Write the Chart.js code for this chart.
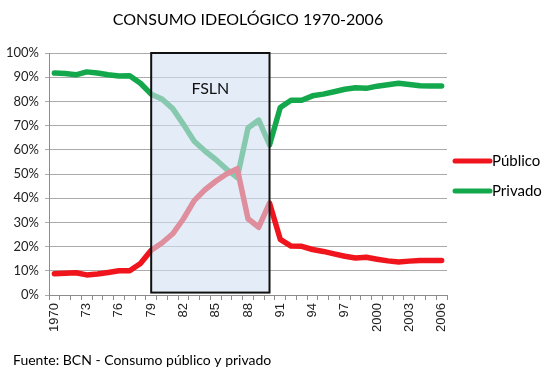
<!DOCTYPE html>
<html>
<head>
<meta charset="utf-8">
<script src="https://cdn.jsdelivr.net/npm/chart.js@4/dist/chart.umd.min.js"></script>
<style>
  html, body { margin: 0; padding: 0; background: #fff; }
  canvas { display: block; }
</style>
</head>
<body>
<canvas id="consumoChart" width="557" height="375"></canvas>
<script>
// Years and the labels shown under the axis (one every 3 years)
const years = [
  "1970", "1971", "1972", "1973", "1974", "1975", "1976", "1977", "1978", "1979",
  "1980", "1981", "1982", "1983", "1984", "1985", "1986", "1987", "1988", "1989",
  "1990", "1991", "1992", "1993", "1994", "1995", "1996", "1997", "1998", "1999",
  "2000", "2001", "2002", "2003", "2004", "2005", "2006",
];
const tickLabels = [
  "1970", "", "", "73", "", "", "76", "", "", "79",
  "", "", "82", "", "", "85", "", "", "88", "",
  "", "91", "", "", "94", "", "", "97", "", "",
  "2000", "", "", "2003", "", "", "2006",
];

// Share of consumption, percent
const publico = [
  8.8, 9.0, 9.2, 8.3, 8.7, 9.3, 10.0, 10.0, 13.0, 18.5,
  21.5, 25.3, 31.5, 39.0, 43.5, 47.0, 50.0, 52.2, 31.5, 28.0,
  38.0, 23.0, 20.2, 20.1, 18.8, 18.0, 17.0, 16.0, 15.3, 15.6,
  14.8, 14.1, 13.6, 14.0, 14.3, 14.3, 14.3,
];
const privado = [
  91.7, 91.5, 91.0, 92.2, 91.7, 91.0, 90.5, 90.6, 87.5, 83.0,
  81.0, 77.0, 70.5, 63.5, 59.5, 56.0, 52.0, 48.5, 69.0, 72.3,
  62.0, 77.5, 80.5, 80.5, 82.3, 83.0, 84.0, 85.0, 85.6, 85.4,
  86.3, 86.9, 87.5, 87.0, 86.5, 86.4, 86.4,
];

// FSLN period shaded on the chart
const fslnStart = "1979";
const fslnEnd = "1990";

const FONT = "Lato, 'Open Sans', sans-serif";
const RED = "#f0141c";
const GREEN = "#14a84c";

const overlayPlugin = {
  id: "overlay",
  afterDatasetsDraw(chart) {
    const { ctx, scales } = chart;
    const x0 = scales.x.getPixelForValue(years.indexOf(fslnStart));
    const x1 = scales.x.getPixelForValue(years.indexOf(fslnEnd));
    const y0 = scales.y.getPixelForValue(100);
    const y1 = scales.y.getPixelForValue(1);
    ctx.save();
    ctx.fillStyle = "rgba(210, 224, 242, 0.6)";
    ctx.fillRect(x0, y0, x1 - x0, y1 - y0);
    ctx.strokeStyle = "#111";
    ctx.lineWidth = 2;
    ctx.strokeRect(x0, y0, x1 - x0, y1 - y0);
    ctx.fillStyle = "#111";
    ctx.font = "16px " + FONT;
    ctx.textAlign = "center";
    ctx.textBaseline = "alphabetic";
    ctx.fillText("FSLN", (x0 + x1) / 2, scales.y.getPixelForValue(83));
    ctx.restore();
  },
  afterDraw(chart) {
    const { ctx, chartArea } = chart;
    ctx.save();
    // title
    ctx.fillStyle = "#000";
    ctx.font = "16px " + FONT;
    ctx.textAlign = "center";
    ctx.fillText("CONSUMO IDEOLÓGICO 1970-2006", (chartArea.left + chartArea.right) / 2, 25);
    // source note
    ctx.textAlign = "left";
    ctx.font = "14px " + FONT;
    ctx.fillText("Fuente: BCN - Consumo público y privado", 13, 365);
    // legend
    const items = [
      { label: "Público", color: RED, y: 161 },
      { label: "Privado", color: GREEN, y: 191 },
    ];
    items.forEach((item) => {
      ctx.strokeStyle = item.color;
      ctx.lineWidth = 5;
      ctx.lineCap = "round";
      ctx.beginPath();
      ctx.moveTo(455, item.y);
      ctx.lineTo(490, item.y);
      ctx.stroke();
      ctx.fillStyle = "#000";
      ctx.font = "15px " + FONT;
      ctx.textBaseline = "middle";
      ctx.fillText(item.label, 492, item.y);
    });
    ctx.restore();
  },
};

const ctx = document.getElementById("consumoChart").getContext("2d");
new Chart(ctx, {
  type: "line",
  data: {
    labels: years,
    datasets: [
      {
        label: "Público",
        data: publico,
        borderColor: RED,
        borderWidth: 5.5,
      },
      {
        label: "Privado",
        data: privado,
        borderColor: GREEN,
        borderWidth: 5.5,
      },
    ],
  },
  options: {
    responsive: false,
    animation: false,
    layout: { padding: { top: 53, right: 110, left: 0, bottom: 0 } },
    elements: {
      point: { radius: 0 },
      line: { tension: 0, borderJoinStyle: "round", borderCapStyle: "round" },
    },
    plugins: {
      legend: { display: false },
      title: { display: false },
      tooltip: { enabled: false },
    },
    scales: {
      x: {
        offset: true,
        afterFit(scale) {
          scale.height = 80;
        },
        grid: {
          offset: true,
          drawOnChartArea: false,
          drawTicks: true,
          tickLength: 5,
          color: "#8c8c8c",
        },
        border: { color: "#8c8c8c" },
        ticks: {
          autoSkip: false,
          maxRotation: 90,
          minRotation: 90,
          padding: 3,
          color: "#222",
          font: { family: "'Liberation Sans', Arial, sans-serif", size: 13 },
          callback: (value, index) => tickLabels[index],
        },
      },
      y: {
        min: 0,
        max: 100,
        afterFit(scale) {
          scale.width = 49;
        },
        grid: { color: "#ababab", tickLength: 4 },
        border: { color: "#8c8c8c" },
        ticks: {
          stepSize: 10,
          padding: 6,
          color: "#222",
          font: { family: FONT, size: 13 },
          callback: (v) => v + "%",
        },
      },
    },
  },
  plugins: [overlayPlugin],
});
</script>
</body>
</html>
